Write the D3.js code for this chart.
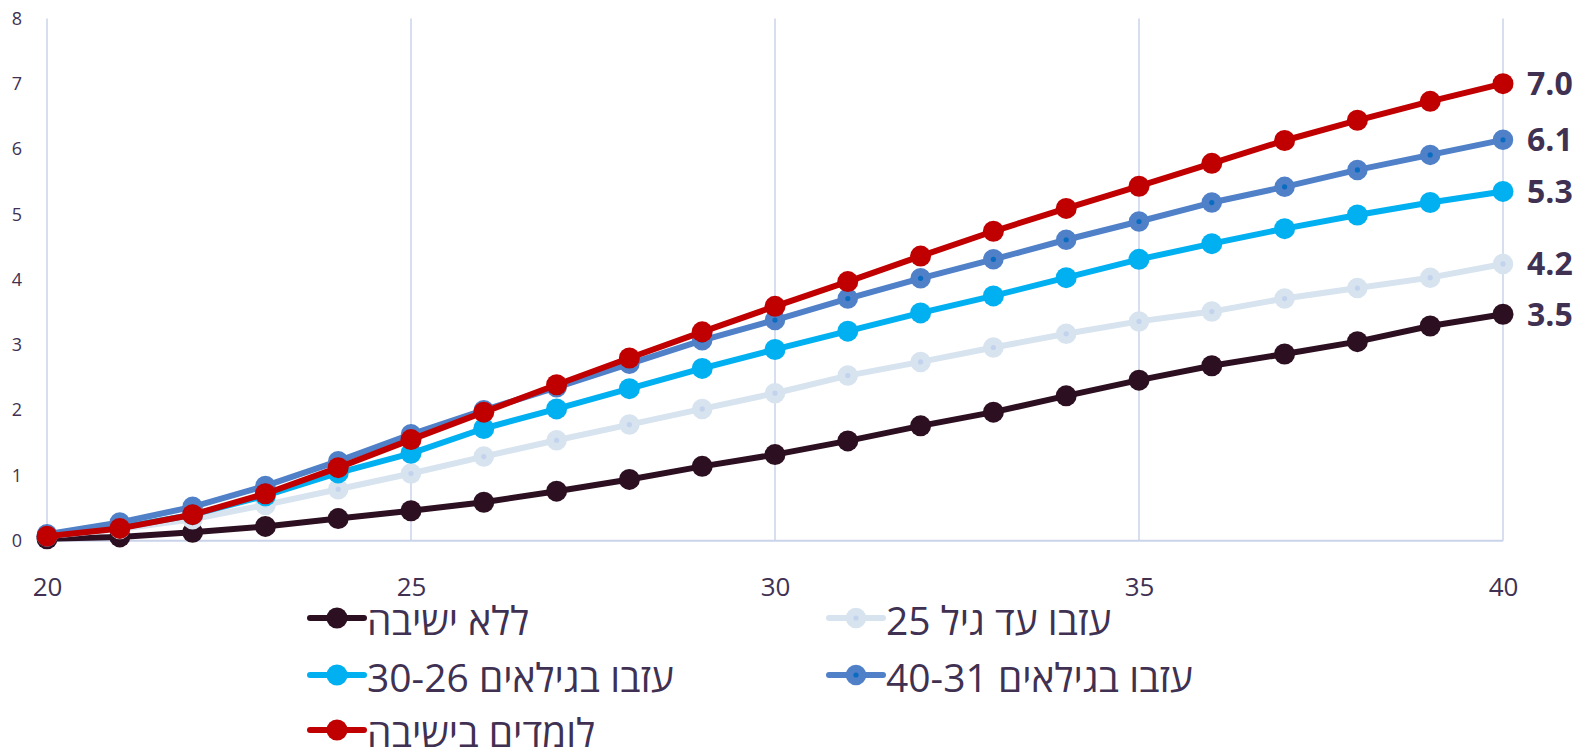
<!DOCTYPE html>
<html><head><meta charset="utf-8">
<script src="https://cdn.jsdelivr.net/npm/d3@7"></script>
<style>
html,body{margin:0;padding:0;background:#fff;}
svg{display:block;font-family:"Open Sans","DejaVu Sans",sans-serif;}
</style></head>
<body>
<svg id="chart" width="1579" height="755"></svg>
<script>
const ages = [20,21,22,23,24,25,26,27,28,29,30,31,32,33,34,35,36,37,38,39,40];
const noYeshiva   = [0.03,0.06,0.13,0.22,0.34,0.46,0.59,0.76,0.94,1.14,1.32,1.53,1.76,1.97,2.22,2.46,2.68,2.86,3.05,3.29,3.47];
const leftUpTo25  = [0.07,0.18,0.33,0.55,0.79,1.03,1.29,1.54,1.78,2.02,2.26,2.53,2.74,2.96,3.17,3.36,3.51,3.71,3.87,4.03,4.24];
const left26to30  = [0.07,0.20,0.40,0.69,1.04,1.34,1.72,2.02,2.33,2.64,2.93,3.21,3.49,3.75,4.03,4.31,4.55,4.78,4.99,5.18,5.35];
const left31to40  = [0.10,0.28,0.52,0.84,1.22,1.63,2.00,2.35,2.71,3.07,3.38,3.71,4.02,4.31,4.61,4.89,5.18,5.42,5.68,5.91,6.14];
const studying    = [0.07,0.19,0.40,0.72,1.12,1.55,1.97,2.39,2.80,3.20,3.59,3.97,4.36,4.74,5.09,5.43,5.78,6.13,6.44,6.73,7.00];
const seriesNames = ["ללא ישיבה","עזבו עד גיל 25","עזבו בגילאים 30-26","עזבו בגילאים 40-31","לומדים בישיבה"];
const seriesColors = ["#2d0f22","#d7e3ef","#00b0f0","#4f80c8","#c00000"];
const dotColors = [null,"#c3d3ee",null,"#0a6cc0",null];
const endLabels = ["3.5","4.2","5.3","6.1","7.0"];
const xTicks = [20,25,30,35,40];
const yTicks = [0,1,2,3,4,5,6,7,8];
const seriesValues = [noYeshiva,leftUpTo25,left26to30,left31to40,studying];

const svg = d3.select("#chart");
const textColor = "#403152";
const gridColor = "#c9d3ea";
const x = d3.scaleLinear().domain([20,40]).range([47,1503]);
const y = d3.scaleLinear().domain([0,8]).range([540.8,18.4]);

// vertical gridlines
svg.append("g").selectAll("line").data(xTicks).join("line")
  .attr("x1",d=>x(d)).attr("x2",d=>x(d)).attr("y1",y(8)).attr("y2",y(0))
  .attr("stroke",gridColor).attr("stroke-width",1.5);
// baseline
svg.append("line").attr("x1",x(20)).attr("x2",x(40)).attr("y1",y(0)).attr("y2",y(0))
  .attr("stroke",gridColor).attr("stroke-width",2);

// x axis labels
const xAxis = d3.axisBottom(x).tickValues(xTicks).tickSize(0).tickPadding(0);
const gx = svg.append("g").attr("transform",`translate(0,${y(0)+47})`).call(xAxis);
gx.select(".domain").remove();
gx.selectAll("text").attr("fill",textColor).attr("font-size",26).attr("dy","0.32em")
  .attr("font-family","'Open Sans','DejaVu Sans',sans-serif");

// y axis labels
const yAxis = d3.axisLeft(y).tickValues(yTicks).tickSize(0).tickPadding(0);
const gy = svg.append("g").attr("transform",`translate(22,0)`).call(yAxis);
gy.select(".domain").remove();
gy.selectAll("text").attr("fill",textColor).attr("font-size",18)
  .attr("font-family","'Open Sans','DejaVu Sans',sans-serif");

const line = d3.line().x((d,i)=>x(ages[i])).y(d=>y(d));

function drawMarker(g, cx, cy, i){
  if(dotColors[i]){
    g.append("circle").attr("cx",cx).attr("cy",cy).attr("r",8.5)
      .attr("fill",seriesColors[i]).attr("stroke",seriesColors[i]).attr("stroke-width",3.5);
    g.append("circle").attr("cx",cx).attr("cy",cy).attr("r",2.6).attr("fill",dotColors[i]);
  } else {
    g.append("circle").attr("cx",cx).attr("cy",cy).attr("r",10.5).attr("fill",seriesColors[i]);
  }
}

seriesValues.forEach((vals,i)=>{
  const g = svg.append("g");
  g.append("path").datum(vals).attr("d",line).attr("fill","none")
    .attr("stroke",seriesColors[i]).attr("stroke-width",6).attr("stroke-linejoin","round");
  vals.forEach((v,j)=>drawMarker(g, x(ages[j]), y(v), i));
});

// end labels
seriesValues.forEach((vals,i)=>{
  svg.append("text").attr("x",x(40)+24).attr("y",y(vals[vals.length-1]))
    .attr("dy","0.36em").attr("font-size",32).attr("font-weight","bold")
    .attr("fill",textColor).text(endLabels[i]);
});

// legend
const legendPos = [[307,618],[826,618],[307,675],[826,675],[307,730]];
seriesNames.forEach((name,i)=>{
  const [lx,ly] = legendPos[i];
  const g = svg.append("g");
  g.append("line").attr("x1",lx+3).attr("x2",lx+57).attr("y1",ly).attr("y2",ly)
    .attr("stroke",seriesColors[i]).attr("stroke-width",6).attr("stroke-linecap","round");
  drawMarker(g, lx+30, ly, i);
  g.append("text").attr("x",lx+60).attr("y",ly+17).attr("font-size",39)
    .attr("fill",textColor).text(name);
});
</script>
</body></html>
